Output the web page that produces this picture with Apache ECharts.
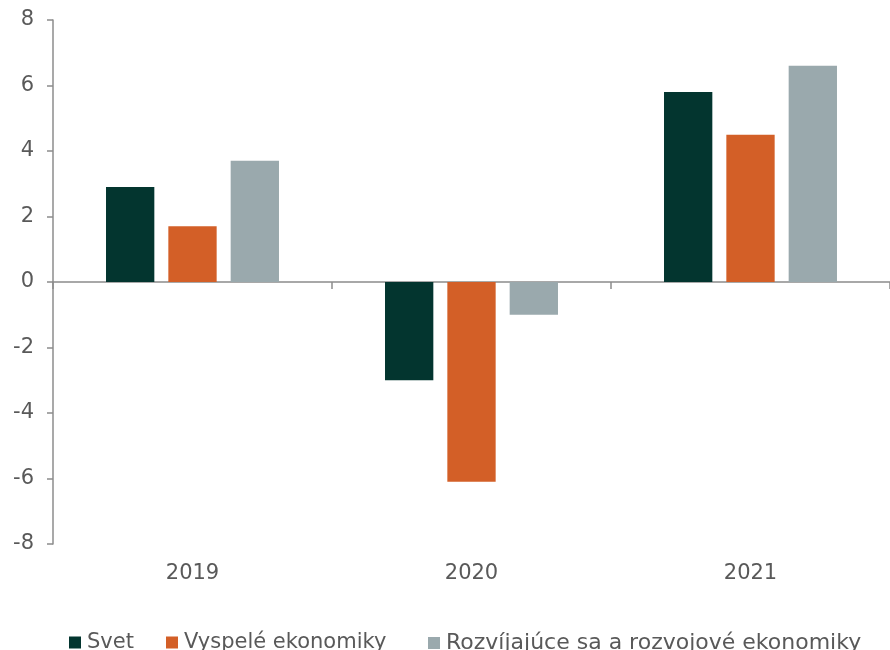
<!DOCTYPE html>
<html>
<head>
<meta charset="utf-8">
<script src="https://cdn.jsdelivr.net/npm/echarts@6/dist/echarts.min.js"></script>
<style>
  html, body { margin: 0; padding: 0; background: #fff; }
  #chart { width: 890px; height: 650px; }
</style>
</head>
<body>
<div id="chart"></div>
<script>
// Rast HDP (%), roky a skupiny krajín
const years = ['2019', '2020', '2021'];
const svet = [2.9, -3.0, 5.8];
const vyspele = [1.7, -6.1, 4.5];
const rozvijajuce = [3.7, -1.0, 6.6];
const seriesNames = ['Svet', 'Vyspelé ekonomiky', 'Rozvíjajúce sa a rozvojové ekonomiky'];
const seriesColors = ['#03352f', '#d35f27', '#9aa9ad'];
const yTicks = { min: -8, max: 8, interval: 2 };

const FONT = '"DejaVu Sans", Verdana, sans-serif';
const TEXT = '#595959';
const AXIS = '#8c8c8c';

// left edge of each legend entry
const legendLeft = [69, 166, 428];

const chart = echarts.init(document.getElementById('chart'), null, { renderer: 'canvas' });

const values = [svet, vyspele, rozvijajuce];

chart.setOption({
  animation: false,
  backgroundColor: '#ffffff',
  textStyle: { fontFamily: FONT },
  grid: { left: 53, right: -1, top: 20, bottom: 106, containLabel: false },
  legend: seriesNames.map((name, i) => ({
    top: 632,
    left: legendLeft[i],
    padding: 0,
    itemWidth: 12,
    itemHeight: 12,
    itemGap: 0,
    icon: 'rect',
    textStyle: { fontFamily: FONT, fontSize: i === 2 ? 22 : 21, color: TEXT, padding: [0, 0, 0, 1] },
    data: [name]
  })),
  xAxis: [
    {
      // zero line with category boundary ticks
      type: 'category',
      data: years,
      axisLine: { onZero: true, lineStyle: { color: AXIS, width: 1.5 } },
      axisTick: { show: true, length: 7, lineStyle: { color: AXIS, width: 1.5 } },
      axisLabel: { show: false },
      splitLine: { show: false }
    },
    {
      // year labels along the bottom
      type: 'category',
      data: years,
      position: 'bottom',
      axisLine: { show: false, onZero: false },
      axisTick: { show: false },
      axisLabel: { show: true, margin: 19, fontFamily: FONT, fontSize: 21, color: TEXT },
      splitLine: { show: false }
    }
  ],
  yAxis: {
    type: 'value',
    min: yTicks.min,
    max: yTicks.max,
    interval: yTicks.interval,
    axisLine: { show: true, lineStyle: { color: AXIS, width: 1.5 } },
    axisTick: { show: true, length: 6, lineStyle: { color: AXIS, width: 1.5 } },
    axisLabel: { margin: 19, fontFamily: FONT, fontSize: 21, color: TEXT },
    splitLine: { show: false }
  },
  series: seriesNames.map((name, i) => ({
    name: name,
    type: 'bar',
    xAxisIndex: 0,
    legendHoverLink: false,
    data: values[i],
    barGap: '29%',
    barCategoryGap: '38%',
    itemStyle: { color: seriesColors[i] }
  }))
});
</script>
</body>
</html>
